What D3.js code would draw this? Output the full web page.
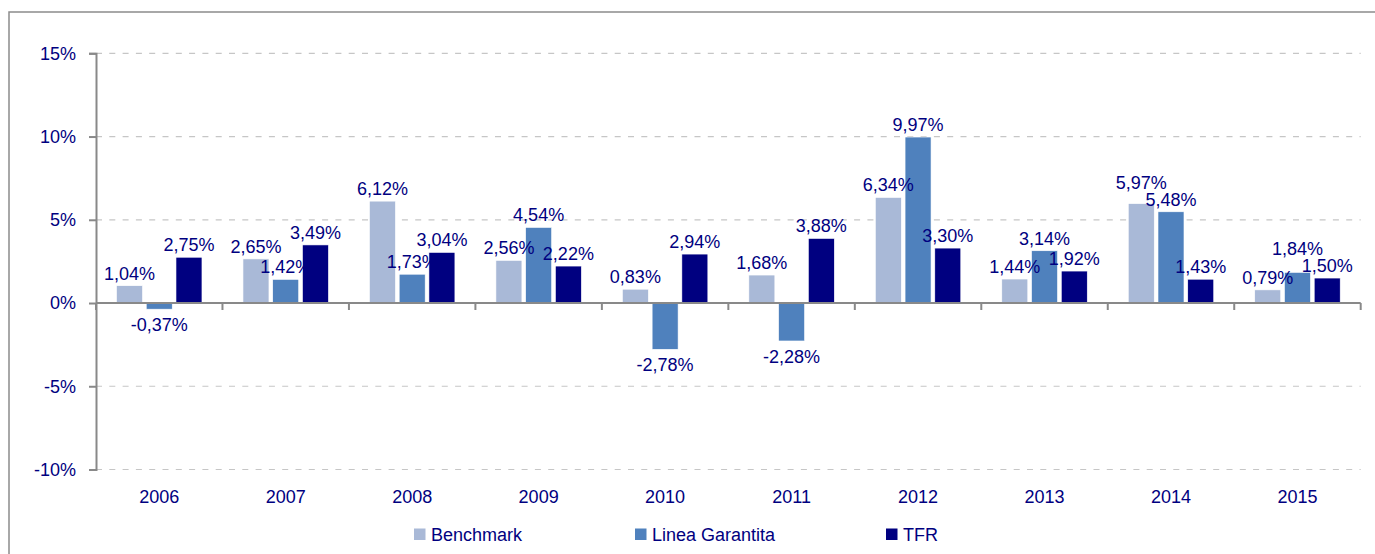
<!DOCTYPE html>
<html>
<head>
<meta charset="utf-8">
<script src="https://cdn.jsdelivr.net/npm/d3@7"></script>
<style>
  html, body { margin: 0; padding: 0; background: #fff; }
  svg { display: block; }
  text { font-family: "Liberation Sans", Arial, sans-serif; fill: #000080; }
</style>
</head>
<body>
<svg id="chart" width="1375" height="554"></svg>
<script>
// ---- data ----
const years = ["2006","2007","2008","2009","2010","2011","2012","2013","2014","2015"];
const seriesNames = ["Benchmark", "Linea Garantita", "TFR"];
const benchmark = [1.04, 2.65, 6.12, 2.56, 0.83, 1.68, 6.34, 1.44, 5.97, 0.79];
const lineaGarantita = [-0.37, 1.42, 1.73, 4.54, -2.78, -2.28, 9.97, 3.14, 5.48, 1.84];
const tfr = [2.75, 3.49, 3.04, 2.22, 2.94, 3.88, 3.30, 1.92, 1.43, 1.50];
const yTicks = [-10, -5, 0, 5, 10, 15];
const colors = ["#A9B9D7", "#4F81BD", "#000080"];

const seriesValues = [benchmark, lineaGarantita, tfr];
const rows = [];
years.forEach((yr, i) => {
  seriesNames.forEach((s, j) => rows.push({ year: yr, series: s, value: seriesValues[j][i], si: j, yi: i }));
});

const svg = d3.select("#chart");
const plotLeft = 96, plotRight = 1360.7, plotTop = 53.3, plotBottom = 469.5;
const FS = 18;

// outer frame
svg.append("rect")
  .attr("x", 9).attr("y", 12).attr("width", 1400).attr("height", 600)
  .attr("fill", "none").attr("stroke", "#8C8C8C").attr("stroke-width", 1.5);

const x = d3.scaleBand().domain(years).range([plotLeft, plotRight]).paddingInner(0).paddingOuter(0);
const xs = d3.scaleBand().domain(seriesNames)
  .range([20.5, x.bandwidth() - 20.5]).paddingInner(0.126).paddingOuter(0);
const y = d3.scaleLinear().domain([-10, 15]).range([plotBottom, plotTop]);

// gridlines
svg.append("g").selectAll("line")
  .data(yTicks.filter(t => t !== 0))
  .join("line")
  .attr("x1", plotLeft).attr("x2", plotRight)
  .attr("y1", d => y(d)).attr("y2", d => y(d))
  .attr("stroke", "#C6C6C6").attr("stroke-width", 1.2)
  .attr("stroke-dasharray", "6,7.3");

// data label placement (computed from bar tops, with simple collision avoidance)
const fmt = v => v.toFixed(2).replace(".", ",") + "%";
rows.forEach(d => {
  d.cx = x(d.year) + xs(d.series) + xs.bandwidth() / 2;
  d.ly = d.value >= 0 ? y(d.value) - 6 : y(d.value) + 22;
});
years.forEach((yr, i) => {
  const grp = rows.filter(r => r.yi === i && r.value >= 0).sort((a, b) => b.ly - a.ly);
  const placed = [];
  grp.forEach(r => {
    placed.forEach(p => {
      if (Math.abs(p.si - r.si) === 1 && p.ly - r.ly < 17) r.ly = p.ly - 17;
    });
    placed.push(r);
  });
});

// bars
svg.append("g").selectAll("rect")
  .data(rows)
  .join("rect")
  .attr("x", d => x(d.year) + xs(d.series))
  .attr("width", xs.bandwidth())
  .attr("y", d => Math.min(y(d.value), y(0)))
  .attr("height", d => Math.abs(y(d.value) - y(0)))
  .attr("fill", d => colors[d.si])
  .attr("stroke", "#ffffff").attr("stroke-width", 0.6);

// y axis
const yAxis = d3.axisLeft(y).tickValues(yTicks).tickSize(7).tickPadding(13)
  .tickFormat(d => d + "%");
const gy = svg.append("g").attr("transform", `translate(${plotLeft},0)`).call(yAxis);
gy.select(".domain").attr("stroke", "#898989").attr("stroke-width", 2);
gy.selectAll(".tick line").attr("stroke", "#898989").attr("stroke-width", 2);
gy.selectAll(".tick text").attr("font-size", FS).attr("fill", "#000080")
  .attr("font-family", '"Liberation Sans", Arial, sans-serif');

// x axis at zero with ticks at category boundaries
const boundaries = years.map(yv => x(yv)).concat([plotRight]);
svg.append("line")
  .attr("x1", plotLeft).attr("x2", plotRight)
  .attr("y1", y(0)).attr("y2", y(0))
  .attr("stroke", "#898989").attr("stroke-width", 2);
svg.append("g").selectAll("line")
  .data(boundaries)
  .join("line")
  .attr("x1", d => d).attr("x2", d => d)
  .attr("y1", y(0)).attr("y2", y(0) + 7)
  .attr("stroke", "#898989").attr("stroke-width", 2);

// year labels
svg.append("g").selectAll("text")
  .data(years)
  .join("text")
  .attr("x", d => x(d) + x.bandwidth() / 2)
  .attr("y", 503)
  .attr("text-anchor", "middle")
  .attr("font-size", FS)
  .text(d => d);

// data labels
svg.append("g").selectAll("text")
  .data(rows)
  .join("text")
  .attr("x", d => d.cx)
  .attr("y", d => d.ly)
  .attr("text-anchor", "middle")
  .attr("font-size", FS)
  .text(d => fmt(d.value));

// legend
const legendX = [414, 635, 886];
const lg = svg.append("g").selectAll("g")
  .data(seriesNames)
  .join("g")
  .attr("transform", (d, i) => `translate(${legendX[i]},528.5)`);
lg.append("rect").attr("width", 11.5).attr("height", 11.5).attr("fill", (d, i) => colors[i]);
lg.append("text").attr("x", 17).attr("y", 12.5).attr("font-size", FS).text(d => d);
</script>
</body>
</html>
